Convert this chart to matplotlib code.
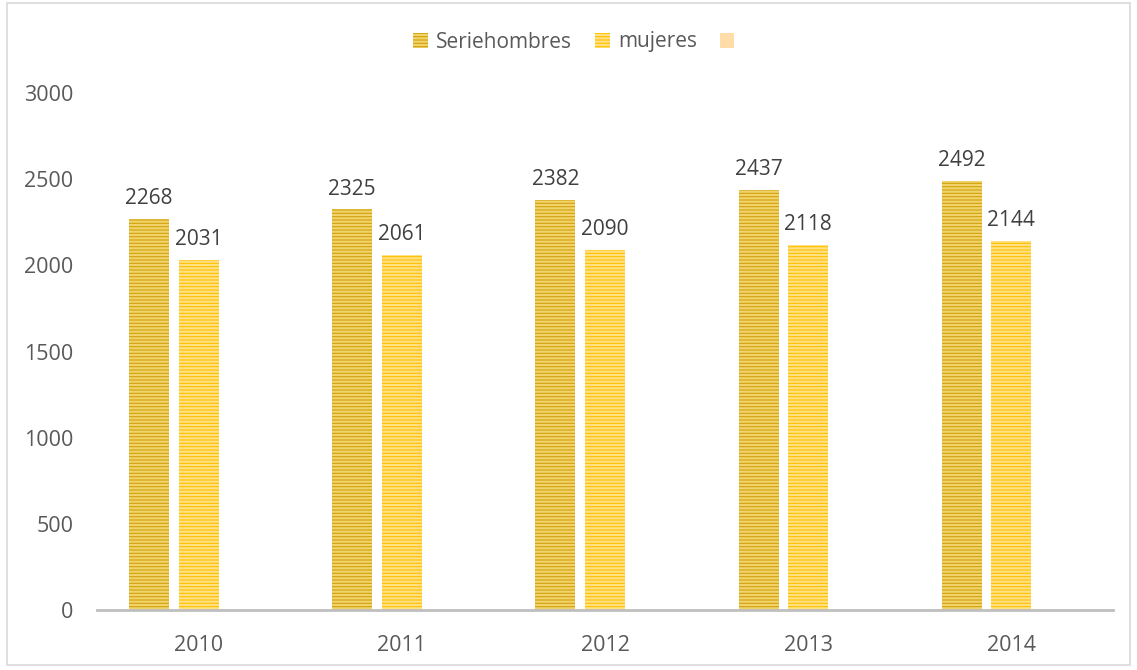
import numpy as np
import matplotlib.pyplot as plt
from matplotlib.patches import Rectangle

years = ['2010', '2011', '2012', '2013', '2014']
hombres = [2268, 2325, 2382, 2437, 2492]
mujeres = [2031, 2061, 2090, 2118, 2144]

plt.rcParams['font.family'] = ['Open Sans', 'DejaVu Sans']
plt.rcParams['hatch.linewidth'] = 1.6
text_color = '#595959'

fig = plt.figure(figsize=(11.37, 6.70), dpi=100)
ax = fig.add_axes([97 / 1137, 60 / 670, 1016 / 1137, 517 / 670])

x = np.arange(len(years))
w = 0.197
step = 0.244

b1 = ax.bar(x - step, hombres, w, color='#D2A20E', edgecolor='#F0D36A',
            hatch='-----', linewidth=0, label='Seriehombres')
b2 = ax.bar(x, mujeres, w, color='#FFC000', edgecolor='#FFE184',
            hatch='-----', linewidth=0, label='mujeres')

for xi, v in zip(x - step, hombres):
    ax.annotate(str(v), (xi, v), xytext=(0, 7), textcoords='offset points',
                ha='center', va='bottom', fontsize=15, color='#404040')
for xi, v in zip(x, mujeres):
    ax.annotate(str(v), (xi, v), xytext=(0, 7), textcoords='offset points',
                ha='center', va='bottom', fontsize=15, color='#404040')

ax.set_xlim(-0.5, len(years) - 0.5)
ax.set_ylim(0, 3000)
ax.set_yticks([0, 500, 1000, 1500, 2000, 2500, 3000])
ax.set_xticks(x)
ax.set_xticklabels(years)
ax.tick_params(axis='both', length=0, labelsize=15.5, colors=text_color)
ax.tick_params(axis='y', pad=17)
ax.tick_params(axis='x', pad=18)
for s in ['top', 'right', 'left']:
    ax.spines[s].set_visible(False)
ax.spines['bottom'].set_color('#BFBFBF')
ax.spines['bottom'].set_linewidth(2)

empty = Rectangle((0, 0), 1, 1, facecolor='#FFDCA8', edgecolor='none')
fig.legend([b1, b2, empty], ['Seriehombres', 'mujeres', ''], loc='center',
           bbox_to_anchor=(578 / 1137, 1 - 42 / 670), ncol=3, frameon=False,
           fontsize=15, labelcolor=text_color, handlelength=0.7,
           handleheight=0.7, handletextpad=0.4, columnspacing=1.1)

fig.patches.append(Rectangle((7 / 1137, 5 / 670), 1123 / 1137, 662 / 670,
                             transform=fig.transFigure, fill=False,
                             edgecolor='#D9D9D9', linewidth=1.2))

plt.savefig('out.png', dpi=100)
